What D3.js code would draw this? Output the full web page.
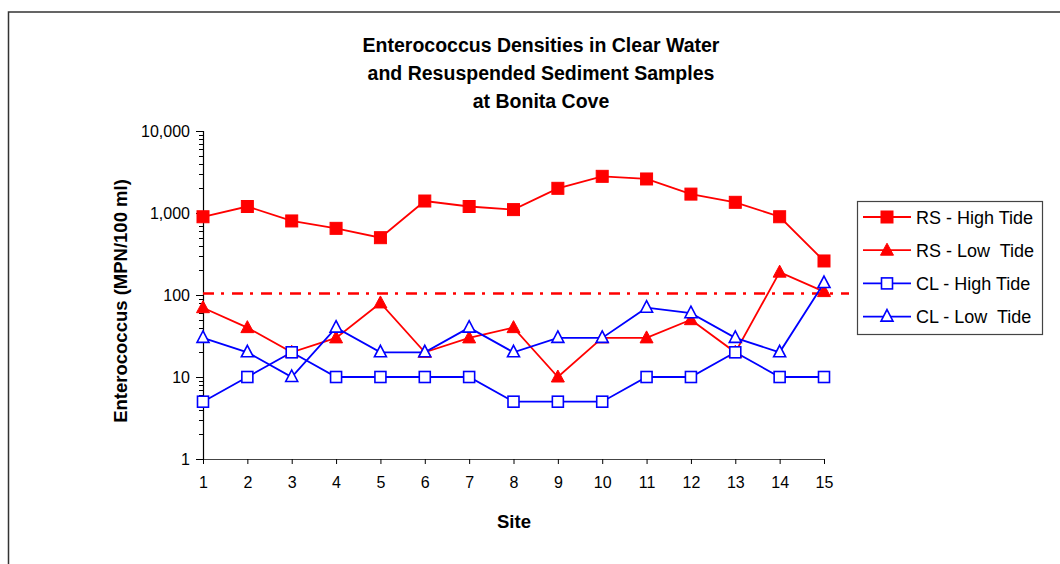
<!DOCTYPE html>
<html>
<head>
<meta charset="utf-8">
<script src="https://cdn.jsdelivr.net/npm/d3@7"></script>
<style>
  body { margin: 0; background: #fff; }
  text { font-family: "Liberation Sans", Arial, sans-serif; fill: #000; }
</style>
</head>
<body>
<div id="cont"></div>
<script>
// Data
var sites = [1, 2, 3, 4, 5, 6, 7, 8, 9, 10, 11, 12, 13, 14, 15];
var rsHigh = [900, 1200, 800, 650, 500, 1400, 1200, 1100, 2000, 2800, 2600, 1700, 1350, 900, 260];
var rsLow  = [70, 40, 20, 30, 80, 20, 30, 40, 10, 30, 30, 50, 20, 190, 110];
var clHigh = [5, 10, 20, 10, 10, 10, 10, 5, 5, 5, 10, 10, 20, 10, 10];
var clLow  = [30, 20, 10, 40, 20, 20, 40, 20, 30, 30, 70, 60, 30, 20, 140];
var standard = 104;
var yTicks = [1, 10, 100, 1000, 10000];
var titleLines = ["Enterococcus Densities in Clear Water", "and Resuspended Sediment Samples", "at Bonita Cove"];

var series = [
  { name: "RS - High Tide", values: rsHigh, color: "#ff0000", shape: "square", filled: true },
  { name: "RS - Low  Tide", values: rsLow, color: "#ff0000", shape: "triangle", filled: true },
  { name: "CL - High Tide", values: clHigh, color: "#0000ff", shape: "square", filled: false },
  { name: "CL - Low  Tide", values: clLow, color: "#0000ff", shape: "triangle", filled: false }
];

var svg = d3.select("#cont").append("svg")
    .attr("width", 1060)
    .attr("height", 564);

// chart frame (only left and top visible)
svg.append("rect")
    .attr("x", 8.5).attr("y", 12)
    .attr("width", 1100).attr("height", 700)
    .attr("fill", "#fff")
    .attr("stroke", "#333")
    .attr("stroke-width", 1.5);

var x = d3.scaleLinear().domain([1, 15]).range([203, 824]);
var y = d3.scaleLog().domain([1, 10000]).range([459, 131]);

// title
svg.append("text")
    .attr("x", 541).attr("y", 52)
    .attr("text-anchor", "middle")
    .style("font-weight", "bold")
    .style("font-size", "19.5px")
    .selectAll("tspan")
    .data(titleLines)
    .enter().append("tspan")
    .attr("x", 541)
    .attr("dy", function(d, i) { return i === 0 ? 0 : 28; })
    .text(function(d) { return d; });

// y axis
var yAxis = d3.axisLeft(y)
    .tickValues(yTicks)
    .tickSize(7)
    .tickPadding(6)
    .tickFormat(d3.format(","));
var gy = svg.append("g").attr("transform", "translate(203,0)").call(yAxis);
gy.select(".domain").attr("stroke", "#000").attr("stroke-width", 1.2);
gy.selectAll("text").style("font-size", "16px").style("font-family", "Liberation Sans, Arial, sans-serif");

// minor ticks
var minor = [];
yTicks.slice(0, -1).forEach(function(t) {
  for (var k = 2; k <= 9; k++) minor.push(t * k);
});
svg.append("g").selectAll("line")
    .data(minor)
    .enter().append("line")
    .attr("x1", 199).attr("x2", 203)
    .attr("y1", function(d) { return Math.round(y(d)) + 0.5; })
    .attr("y2", function(d) { return Math.round(y(d)) + 0.5; })
    .attr("stroke", "#000");

// x axis
var xAxis = d3.axisBottom(x)
    .tickValues(sites)
    .tickSize(5)
    .tickPadding(13)
    .tickFormat(d3.format("d"));
var gx = svg.append("g").attr("transform", "translate(0,459)").call(xAxis);
gx.select(".domain").attr("stroke", "#444");
gx.selectAll("text").style("font-size", "16px").style("font-family", "Liberation Sans, Arial, sans-serif");

// axis titles
svg.append("text")
    .attr("x", 514).attr("y", 528)
    .attr("text-anchor", "middle")
    .style("font-weight", "bold").style("font-size", "18.5px")
    .text("Site");

svg.append("text")
    .attr("transform", "translate(127,301) rotate(-90)")
    .attr("text-anchor", "middle")
    .style("font-weight", "bold").style("font-size", "18.5px")
    .text("Enterococcus (MPN/100 ml)");

// standard line
svg.append("line")
    .attr("x1", x(1)).attr("x2", 849)
    .attr("y1", y(standard)).attr("y2", y(standard))
    .attr("stroke", "#ff0000")
    .attr("stroke-width", 2.5)
    .attr("stroke-dasharray", "11,7,3,8");

function marker(sel, s) {
  if (s.shape === "square") {
    var sz = s.filled ? 12 : 11;
    sel.append("rect")
        .attr("x", -sz / 2).attr("y", -sz / 2)
        .attr("width", sz).attr("height", sz);
  } else {
    sel.append("path").attr("d", s.filled ? "M0,-7L6.5,5L-6.5,5Z" : "M0,-7L6,4.5L-6,4.5Z");
  }
  sel.selectAll("rect,path")
      .attr("fill", s.filled ? s.color : "#fff")
      .attr("stroke", s.color)
      .attr("stroke-width", s.filled ? 1 : 1.6);
}

var line = d3.line()
    .x(function(d, i) { return x(sites[i]); })
    .y(function(d) { return y(d); });

series.forEach(function(s) {
  svg.append("path")
      .attr("d", line(s.values))
      .attr("fill", "none")
      .attr("stroke", s.color)
      .attr("stroke-width", 1.8);
});

series.forEach(function(s) {
  svg.append("g").selectAll("g")
      .data(s.values)
      .enter().append("g")
      .attr("transform", function(d, i) { return "translate(" + x(sites[i]) + "," + y(d) + ")"; })
      .each(function() { marker(d3.select(this), s); });
});

// legend
var lg = svg.append("g");
lg.append("rect")
    .attr("x", 857.5).attr("y", 201.5)
    .attr("width", 185).attr("height", 133)
    .attr("fill", "#fff")
    .attr("stroke", "#444")
    .attr("stroke-width", 1.2);

var items = lg.selectAll("g.item")
    .data(series)
    .enter().append("g")
    .attr("class", "item")
    .attr("transform", function(d, i) { return "translate(0," + (217 + i * 33.2) + ")"; });

items.append("line")
    .attr("x1", 863).attr("x2", 911)
    .attr("stroke", function(d) { return d.color; })
    .attr("stroke-width", 1.8);

items.append("g")
    .attr("transform", "translate(887,0)")
    .each(function(d) { marker(d3.select(this), d); });

items.append("text")
    .attr("x", 916).attr("y", 6.5)
    .style("font-size", "18px")
    .style("white-space", "pre")
    .attr("xml:space", "preserve")
    .text(function(d) { return d.name; });
</script>
</body>
</html>
